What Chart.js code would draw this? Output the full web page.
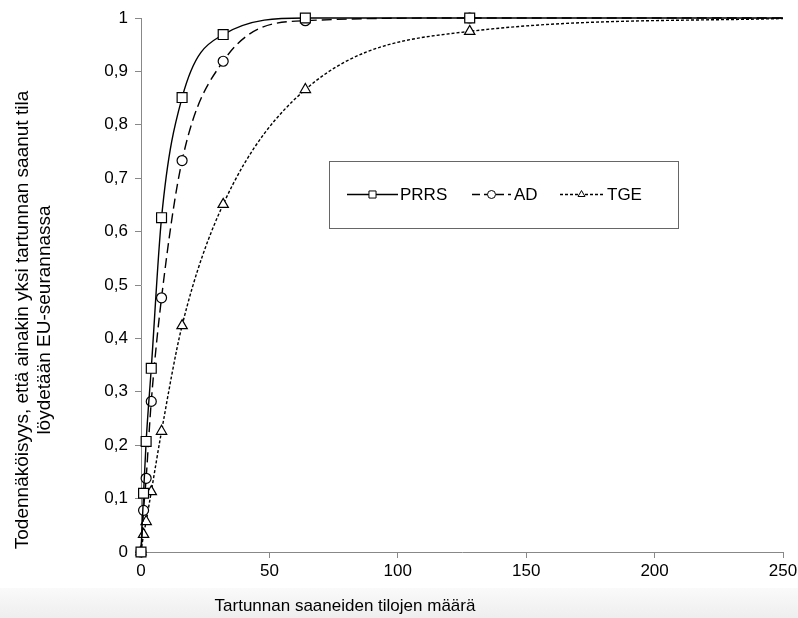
<!DOCTYPE html>
<html>
<head>
<meta charset="utf-8">
<script src="https://cdn.jsdelivr.net/npm/chart.js@4.4.1/dist/chart.umd.min.js"></script>
<style>
  html, body { margin: 0; padding: 0; background: #fff; }
  #wrap { position: relative; width: 798px; height: 618px; }
  #strip { position: absolute; left: 0; top: 588px; width: 798px; height: 30px; background: linear-gradient(#fafafa, #eeeeee); }
  canvas { position: absolute; left: 0; top: 0; }
</style>
</head>
<body>
<div id="wrap">
  <div id="strip"></div>
  <canvas id="lineChart" width="798" height="618"></canvas>
</div>
<script>
var xValues = [0, 1, 2, 4, 8, 16, 32, 64, 128, 250];
var prrsValues = [0, 0.11, 0.207, 0.344, 0.626, 0.851, 0.969, 1.0, 1.0, 1.0];
var adValues = [0, 0.078, 0.138, 0.282, 0.476, 0.733, 0.919, 0.995, 1.0, 1.0];
var tgeValues = [0, 0.033, 0.057, 0.113, 0.226, 0.424, 0.651, 0.866, 0.975, 0.999];
var seriesNames = ["PRRS", "AD", "TGE"];
var xTitle = "Tartunnan saaneiden tilojen määrä";
var yTitle = ["Todennäköisyys, että ainakin yksi tartunnan saanut tila", "löydetään EU-seurannassa"];

var FONT = "'Liberation Sans', Arial, sans-serif";

function toPoints(ys) {
    return xValues.map(function(x, i) { return { x: x, y: ys[i] }; });
}

// no marker on the last point (line just runs out to the edge)
function radii(r) {
    return xValues.map(function(x, i) { return i === xValues.length - 1 ? 0 : r; });
}

function makeSet(label, ys, style, dash, r) {
    return {
        label: label,
        data: toPoints(ys),
        borderColor: "#000",
        backgroundColor: "#fff",
        borderWidth: 1.4,
        borderDash: dash,
        pointStyle: style,
        pointRadius: radii(r),
        pointBorderColor: "#000",
        pointBackgroundColor: "#fff",
        pointBorderWidth: 1.2,
        cubicInterpolationMode: "monotone",
        clip: false,
        fill: false
    };
}

var legendBox = {
    id: "legendBox",
    afterDraw: function(chart) {
        var c = chart.ctx;
        c.save();
        c.strokeStyle = "#666";
        c.lineWidth = 1;
        c.fillStyle = "#fff";
        c.fillRect(329.5, 161.5, 349, 67);
        c.strokeRect(329.5, 161.5, 349, 67);
        var y = 194.5;
        var items = [
            { x0: 347, x1: 398, tx: 400, dash: [], style: "rect", r: 5 },
            { x0: 472, x1: 511, tx: 514, dash: [8, 4], style: "circle", r: 4 },
            { x0: 560, x1: 603, tx: 607, dash: [3, 2], style: "triangle", r: 4 }
        ];
        c.font = "17px " + FONT;
        c.textBaseline = "middle";
        items.forEach(function(it, i) {
            c.strokeStyle = "#000";
            c.lineWidth = 1.4;
            c.setLineDash(it.dash);
            c.beginPath();
            c.moveTo(it.x0, y);
            c.lineTo(it.x1, y);
            c.stroke();
            c.setLineDash([]);
            c.lineWidth = 1;
            c.fillStyle = "#fff";
            Chart.helpers.drawPoint(c, { pointStyle: it.style, radius: it.r, borderWidth: 1 }, (it.x0 + it.x1) / 2, y);
            c.fillStyle = "#000";
            c.fillText(seriesNames[i], it.tx, y + 1);
        });
        c.restore();
    }
};

var axisTitles = {
    id: "axisTitles",
    afterDraw: function(chart) {
        var c = chart.ctx;
        c.save();
        c.fillStyle = "#000";
        c.font = "17px " + FONT;
        c.textAlign = "center";
        c.textBaseline = "middle";
        c.fillText(xTitle, 345, 606);
        c.font = "19px " + FONT;
        c.translate(0, 320);
        c.rotate(-Math.PI / 2);
        c.fillText(yTitle[0], 0, 23);
        c.fillText(yTitle[1], 0, 45);
        c.restore();
    }
};

var ctx1 = document.getElementById("lineChart").getContext("2d");
var myChart = new Chart(ctx1, {
    type: "line",
    data: {
        datasets: [
            makeSet(seriesNames[0], prrsValues, "rect", [], 7),
            makeSet(seriesNames[1], adValues, "circle", [10, 5], 5),
            makeSet(seriesNames[2], tgeValues, "triangle", [3, 2], 6)
        ]
    },
    options: {
        responsive: false,
        animation: false,
        layout: { padding: { left: 0, right: 15, top: 18, bottom: 0 } },
        plugins: {
            legend: { display: false },
            tooltip: { enabled: false }
        },
        scales: {
            x: {
                type: "linear",
                min: 0,
                max: 250,
                afterFit: function(scale) {
                    scale.height = 66;
                    scale.paddingRight = 0;
                    scale.paddingLeft = 0;
                },
                ticks: {
                    stepSize: 50,
                    color: "#000",
                    padding: 3,
                    maxRotation: 0,
                    font: { family: FONT, size: 17 }
                },
                grid: {
                    drawOnChartArea: false,
                    drawTicks: true,
                    tickLength: 6,
                    color: "#888"
                },
                border: { color: "#888", width: 1 }
            },
            y: {
                min: 0,
                max: 1,
                afterFit: function(scale) { scale.width = 141; },
                ticks: {
                    stepSize: 0.1,
                    color: "#000",
                    padding: 7,
                    font: { family: FONT, size: 17 },
                    callback: function(value) {
                        return (Math.round(value * 10) / 10).toString().replace(".", ",");
                    }
                },
                grid: {
                    drawOnChartArea: false,
                    drawTicks: true,
                    tickLength: 6,
                    color: "#888"
                },
                border: { color: "#888", width: 1 }
            }
        }
    },
    plugins: [legendBox, axisTitles]
});
</script>
</body>
</html>
